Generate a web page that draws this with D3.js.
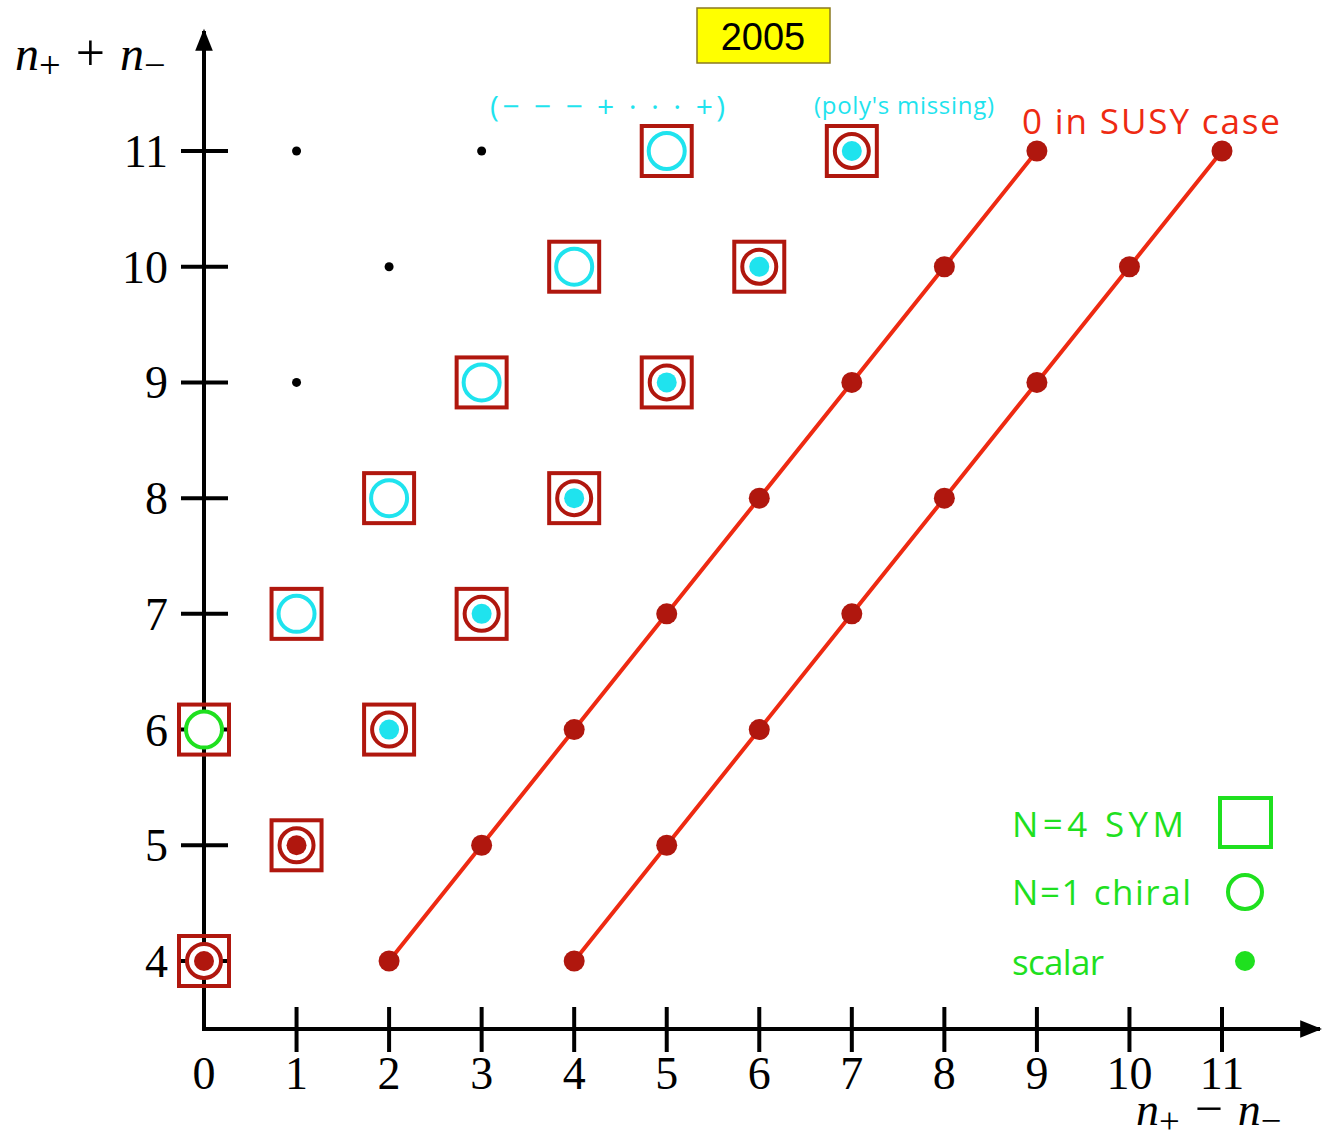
<!DOCTYPE html>
<html lang="en">
<head>
<meta charset="UTF-8">
<title>n+ / n- chart</title>
<script src="https://d3js.org/d3.v7.min.js"></script>
<style>
    body { margin: 0; background: #fff; }
    .tick-label { font-family: "Liberation Serif", "DejaVu Serif", serif; font-size: 46px; fill: #000; }
    .sans { font-family: "Open Sans", "DejaVu Sans", sans-serif; }
</style>
</head>
<body>
<svg width="1322" height="1145"></svg>
<script>
// ticks
const xTicks = [0, 1, 2, 3, 4, 5, 6, 7, 8, 9, 10, 11];
const yTicks = [4, 5, 6, 7, 8, 9, 10, 11];

// N=4 SYM squares [n+ - n-, n+ + n-]
const squares = [[0,4],[1,5],[0,6],[2,6],[1,7],[3,7],[2,8],[4,8],[3,9],[5,9],[4,10],[6,10],[5,11],[7,11]];
// dark red ring + dark red dot
const redScalar = [[0,4],[1,5]];
// green chiral ring
const greenRing = [[0,6]];
// open cyan rings
const cyanRing = [[1,7],[2,8],[3,9],[4,10],[5,11]];
// dark red ring with cyan dot
const cyanScalar = [[2,6],[3,7],[4,8],[5,9],[6,10],[7,11]];
// small black dots
const blackDots = [[1,11],[3,11],[2,10],[1,9]];
// "0 in SUSY case" lines
const susyLine1 = [[2,4],[3,5],[4,6],[5,7],[6,8],[7,9],[8,10],[9,11]];
const susyLine2 = [[4,4],[5,5],[6,6],[7,7],[8,8],[9,9],[10,10],[11,11]];

const legendLabels = ["N=4 SYM", "N=1 chiral", "scalar"];

const darkRed = "#b0170e", red = "#ee2a12", cyan = "#1fe3ee", green = "#1fe01f";

const svg = d3.select("svg");
const x = d3.scaleLinear().domain([0, 11]).range([204, 1222]);
const y = d3.scaleLinear().domain([4, 11]).range([961, 151]);
const axisY = 1029;

// arrow marker
svg.append("defs").append("marker")
    .attr("id", "arrow").attr("viewBox", "0 0 10 10")
    .attr("refX", 9).attr("refY", 5)
    .attr("markerWidth", 24).attr("markerHeight", 22)
    .attr("markerUnits", "userSpaceOnUse")
    .attr("orient", "auto")
    .append("path").attr("d", "M0,1 L10,5 L0,9 z").attr("fill", "#000");

// axes lines
svg.append("line").attr("x1", x(0) - 2).attr("y1", axisY).attr("x2", 1320).attr("y2", axisY)
    .attr("stroke", "#000").attr("stroke-width", 4).attr("marker-end", "url(#arrow)");
svg.append("line").attr("x1", x(0)).attr("y1", axisY).attr("x2", x(0)).attr("y2", 31)
    .attr("stroke", "#000").attr("stroke-width", 4).attr("marker-end", "url(#arrow)");

// x ticks
const xt = svg.append("g");
xt.selectAll("line").data(xTicks.slice(1)).enter().append("line")
    .attr("x1", d => x(d)).attr("x2", d => x(d))
    .attr("y1", axisY - 22).attr("y2", axisY + 23)
    .attr("stroke", "#000").attr("stroke-width", 4);
xt.selectAll("text").data(xTicks).enter().append("text")
    .attr("class", "tick-label").attr("text-anchor", "middle")
    .attr("x", d => x(d)).attr("y", 1089).text(d => d);

// y ticks
const yt = svg.append("g");
yt.selectAll("line").data(yTicks).enter().append("line")
    .attr("x1", x(0) - 23).attr("x2", x(0) + 24)
    .attr("y1", d => y(d)).attr("y2", d => y(d))
    .attr("stroke", "#000").attr("stroke-width", 4);
yt.selectAll("text").data(yTicks).enter().append("text")
    .attr("class", "tick-label").attr("text-anchor", "end")
    .attr("x", 168).attr("y", d => y(d) + 16).text(d => d);

// axis titles
function axisTitle(tx, ty, sign, fs) {
    const t = svg.append("text").attr("x", tx).attr("y", ty)
        .attr("font-family", "'Liberation Serif', 'DejaVu Serif', serif").attr("font-size", fs);
    t.append("tspan").attr("font-style", "italic").text("n");
    t.append("tspan").attr("font-size", fs * 0.8).attr("dy", 8).text("+");
    t.append("tspan").attr("dy", -8).attr("dx", 15).attr("font-size", fs * 1.08).text(sign);
    t.append("tspan").attr("font-style", "italic").attr("dx", 15).text("n");
    t.append("tspan").attr("font-size", fs * 0.8).attr("dy", 8).text("−");
}
axisTitle(15, 70, "+", 48);
axisTitle(1136, 1125, "−", 46);

// red SUSY lines
const line = d3.line().x(d => x(d[0])).y(d => y(d[1]));
[susyLine1, susyLine2].forEach(s => {
    svg.append("path").attr("d", line(s)).attr("fill", "none")
        .attr("stroke", red).attr("stroke-width", 4);
    svg.append("g").selectAll("circle").data(s).enter().append("circle")
        .attr("cx", d => x(d[0])).attr("cy", d => y(d[1])).attr("r", 10.5).attr("fill", darkRed);
});

// squares
svg.append("g").selectAll("rect").data(squares).enter().append("rect")
    .attr("x", d => x(d[0]) - 25).attr("y", d => y(d[1]) - 25)
    .attr("width", 50).attr("height", 50)
    .attr("fill", "none").attr("stroke", darkRed).attr("stroke-width", 4);

function rings(data, color, r) {
    svg.append("g").selectAll("circle").data(data).enter().append("circle")
        .attr("cx", d => x(d[0])).attr("cy", d => y(d[1])).attr("r", r)
        .attr("fill", "#fff").attr("stroke", color).attr("stroke-width", 4);
}
function dots(data, color, r) {
    svg.append("g").selectAll("circle").data(data).enter().append("circle")
        .attr("cx", d => x(d[0])).attr("cy", d => y(d[1])).attr("r", r).attr("fill", color);
}
rings(redScalar, darkRed, 17);
dots(redScalar, darkRed, 10);
rings(greenRing, green, 18);
rings(cyanRing, cyan, 18);
rings(cyanScalar, darkRed, 17);
dots(cyanScalar, cyan, 10);
dots(blackDots, "#000", 4.5);

// 2005 box
svg.append("rect").attr("x", 697).attr("y", 8).attr("width", 133).attr("height", 55)
    .attr("fill", "#ffff00").attr("stroke", "#8a7a20").attr("stroke-width", 1.5);
svg.append("text").attr("x", 763).attr("y", 50).attr("text-anchor", "middle")
    .attr("font-family", "'Liberation Sans', Arial, sans-serif").attr("font-size", 38).text("2005");

// annotations
svg.append("text").attr("class", "sans").attr("x", 490).attr("y", 117)
    .attr("font-size", 30).attr("fill", cyan)
    .attr("textLength", 235).attr("lengthAdjust", "spacing")
    .text("(− −  − + · · · +)");
svg.append("text").attr("class", "sans").attr("x", 814).attr("y", 114)
    .attr("font-size", 24).attr("fill", cyan)
    .attr("textLength", 180).attr("lengthAdjust", "spacing")
    .text("(poly's missing)");
svg.append("text").attr("class", "sans").attr("x", 1022).attr("y", 134)
    .attr("font-size", 35).attr("fill", red)
    .attr("textLength", 258).attr("lengthAdjust", "spacing")
    .text("0 in SUSY case");

// legend
const legendY = [837, 905, 975];
const legendW = [172, 179, 92];
svg.append("g").selectAll("text").data(legendLabels).enter().append("text")
    .attr("class", "sans").attr("x", 1012).attr("y", (d, i) => legendY[i])
    .attr("font-size", 35).attr("fill", green)
    .attr("textLength", (d, i) => legendW[i]).attr("lengthAdjust", "spacing")
    .text(d => d);
svg.append("rect").attr("x", 1220).attr("y", 798).attr("width", 51).attr("height", 49)
    .attr("fill", "none").attr("stroke", green).attr("stroke-width", 4);
svg.append("circle").attr("cx", 1245).attr("cy", 892).attr("r", 17)
    .attr("fill", "none").attr("stroke", green).attr("stroke-width", 4);
svg.append("circle").attr("cx", 1245).attr("cy", 961).attr("r", 10).attr("fill", green);
</script>
</body>
</html>
